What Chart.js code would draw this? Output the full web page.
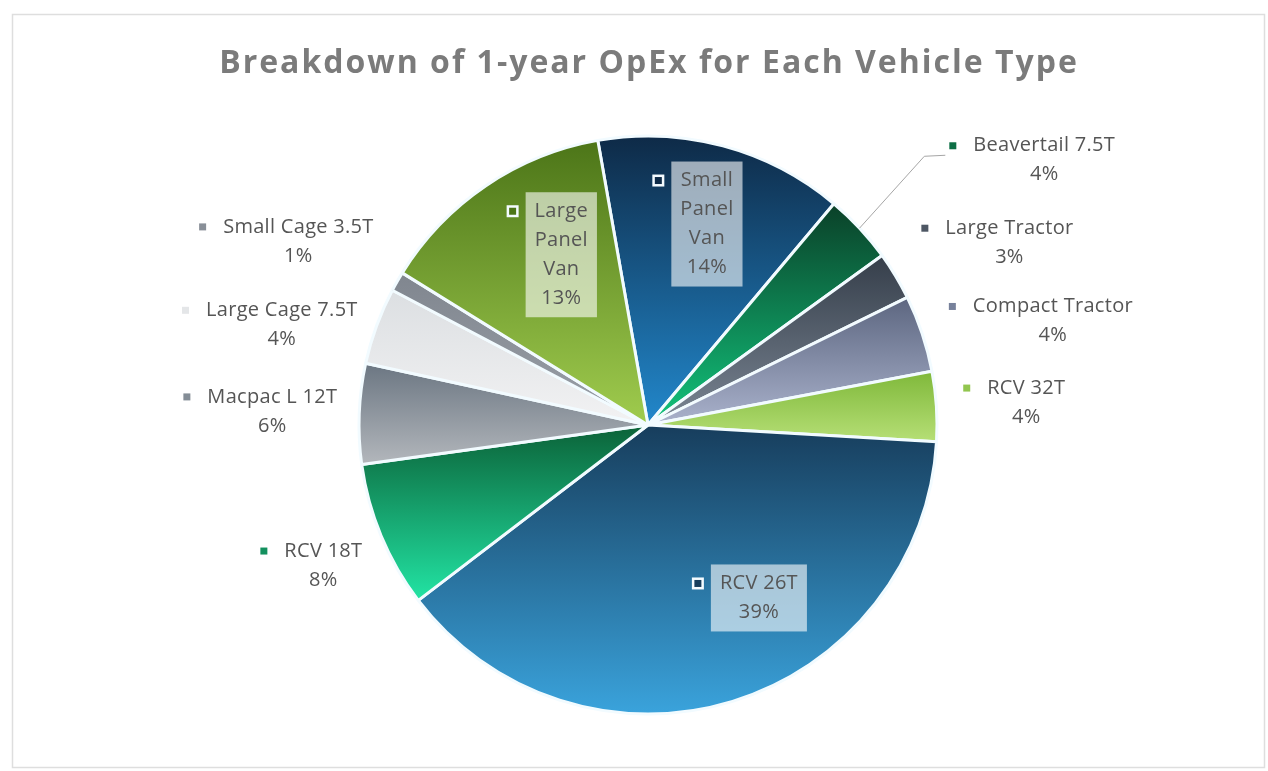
<!DOCTYPE html>
<html>
<head>
<meta charset="utf-8">
<title>1-year OpEx by vehicle type</title>
<script src="https://cdn.jsdelivr.net/npm/chart.js@4.4.1/dist/chart.umd.min.js"></script>
<style>
  html, body { margin: 0; padding: 0; background: #fff; }
  #wrap { width: 1268px; height: 771px; position: relative; }
</style>
</head>
<body>
<div id="wrap"><canvas id="opex"></canvas></div>
<script>
// share of 1-year OpEx per vehicle type (%), clockwise from the first slice
const vehicleTypes = ['Small Panel Van', 'Beavertail 7.5T', 'Large Tractor', 'Compact Tractor', 'RCV 32T',
  'RCV 26T', 'RCV 18T', 'Macpac L 12T', 'Large Cage 7.5T', 'Small Cage 3.5T', 'Large Panel Van'];
const opexShare = [13.9, 3.9, 2.7, 4.3, 3.9, 38.7, 8.2, 5.6, 4.3, 1.1, 13.4];

const chartTitle = 'Breakdown of 1-year OpEx for Each Vehicle Type';

// vertical gradient per slice: top -> bottom
const shadeTop = ['#0e2a47', '#0a4028', '#353e4a', '#5c6680', '#7fb83a', '#173d5c',
  '#0b6238', '#6b7682', '#dcdfe2', '#80868f', '#4c7518'];
const shadeBottom = ['#2288cc', '#12c47c', '#7b8694', '#aab2cc', '#b6df76', '#3aa3dc',
  '#22e4a4', '#b3b7bc', '#f2f2f3', '#9aa0a8', '#a0cc4e'];

// label tweaks (px) on top of the automatic placement
const labelNudge = [[5, 0], [90, -28], [11, -3], [3, 6], [-3, 0], [50, -26],
  [5, 7], [8, 0], [4, 19], [-9, -11], [30, 2]];

const ROTATION = -10;
const BORDER = 3;
const LINE = 29;
const KEY_W = 24;
const TEXT = '#555555';
const LABEL_FONT = '20px "Open Sans"';

function blend(a, b, t) {
  const pa = parseInt(a.slice(1), 16), pb = parseInt(b.slice(1), 16);
  const ch = s => Math.round(((pa >> s) & 255) * (1 - t) + ((pb >> s) & 255) * t);
  return `rgb(${ch(16)},${ch(8)},${ch(0)})`;
}

function sliceGradient(c) {
  const i = c.dataIndex;
  const chart = c.chart;
  const area = chart.chartArea;
  if (!area) return shadeBottom[i];
  const cx = (area.left + area.right) / 2, cy = (area.top + area.bottom) / 2;
  const r = (Math.min(area.width, area.height) - BORDER) / 2;
  const total = opexShare.reduce((a, b) => a + b, 0);
  let before = 0;
  for (let k = 0; k < i; k++) before += opexShare[k];
  const a0 = (ROTATION + before / total * 360) * Math.PI / 180;
  const a1 = a0 + opexShare[i] / total * 2 * Math.PI;
  const ys = [cy, cy - r * Math.cos(a0), cy - r * Math.cos(a1)];
  for (const t of [0, Math.PI, 2 * Math.PI]) {
    if (t > a0 && t < a1) ys.push(cy - r * Math.cos(t));
  }
  const g = chart.ctx.createLinearGradient(0, Math.min(...ys), 0, Math.max(...ys));
  g.addColorStop(0, shadeTop[i]);
  g.addColorStop(1, shadeBottom[i]);
  return g;
}

// white card with a thin grey frame, plus the title
const chartFrame = {
  id: 'chartFrame',
  beforeDraw(chart) {
    const { ctx, width, height } = chart;
    ctx.save();
    ctx.fillStyle = '#fff';
    ctx.fillRect(0, 0, width, height);
    ctx.strokeStyle = '#dedede';
    ctx.lineWidth = 1.5;
    ctx.strokeRect(12.5, 14.5, width - 16, height - 18);
    ctx.font = 'bold 32px "Open Sans"';
    ctx.letterSpacing = '2px';
    ctx.fillStyle = '#7b7b7b';
    ctx.textAlign = 'center';
    ctx.textBaseline = 'middle';
    ctx.fillText(chartTitle, chart.chartArea.left + chart.chartArea.width / 2 + 1, 64);
    ctx.restore();
  }
};

const sliceLabels = {
  id: 'sliceLabels',
  afterDatasetsDraw(chart) {
    const { ctx } = chart;
    const meta = chart.getDatasetMeta(0);
    const total = opexShare.reduce((a, b) => a + b, 0);
    ctx.save();
    ctx.font = LABEL_FONT;
    ctx.letterSpacing = '0.3px';
    ctx.textAlign = 'center';
    ctx.textBaseline = 'middle';
    meta.data.forEach((arc, i) => {
      const p = arc.getProps(['x', 'y', 'startAngle', 'endAngle', 'outerRadius'], true);
      const mid = (p.startAngle + p.endAngle) / 2;
      const dx = Math.cos(mid), dy = Math.sin(mid);
      const pct = Math.round(opexShare[i] / total * 100) + '%';
      const [nx, ny] = labelNudge[i];
      const name = vehicleTypes[i];

      if (opexShare[i] / total > 0.1) {
        // big slices: label inside on a translucent box
        const words = name.split(' ');
        const lines = (words.length > 2 ? words : [name]).concat(pct);
        const w = Math.max(...lines.map(l => ctx.measureText(l).width)) + 18;
        const h = lines.length * LINE + 9;
        const bx = p.x + dx * p.outerRadius * 0.72 + nx;
        const by = p.y + dy * p.outerRadius * 0.72 + ny;
        ctx.fillStyle = 'rgba(255,255,255,0.6)';
        ctx.fillRect(bx - w / 2, by - h / 2, w, h);
        ctx.fillStyle = TEXT;
        lines.forEach((l, k) => ctx.fillText(l, bx, by - h / 2 + 4.5 + LINE * (k + 0.5)));
        const kx = bx - w / 2 - 13, ky = by - h / 2 + 4.5 + LINE * 0.5;
        ctx.fillStyle = '#f4fbff';
        ctx.fillRect(kx - 6, ky - 6, 12, 12);
        ctx.fillStyle = shadeTop[i];
        ctx.fillRect(kx - 3.5, ky - 3.5, 7, 7);
        return;
      }

      // small slices: key + name, percentage below, outside the pie
      const nameW = ctx.measureText(name).width;
      const w = KEY_W + nameW, h = LINE + 28;
      const ar = p.outerRadius + 30;
      const cx = p.x + dx * ar + dx * w / 2 + nx;
      const cy = p.y + dy * ar + dy * h / 2 + ny;
      const left = cx - w / 2;
      const tx = left + KEY_W + nameW / 2;
      ctx.fillStyle = TEXT;
      ctx.fillText(name, tx, cy - LINE / 2);
      ctx.fillText(pct, tx, cy + LINE / 2);
      ctx.fillStyle = blend(shadeTop[i], shadeBottom[i], 0.35);
      ctx.fillRect(left, cy - LINE / 2 - 3.5, 7, 7);

      if (Math.hypot(nx, ny) > 40) {
        // label was pulled away from its slice: draw a leader line
        ctx.strokeStyle = '#a6a6a6';
        ctx.lineWidth = 1;
        ctx.beginPath();
        ctx.moveTo(p.x + dx * p.outerRadius, p.y + dy * p.outerRadius);
        ctx.lineTo(left - 25, cy - 4);
        ctx.lineTo(left - 4, cy - 5);
        ctx.stroke();
      }
    });
    ctx.restore();
  }
};

new Chart(document.getElementById('opex'), {
  type: 'pie',
  data: {
    labels: vehicleTypes,
    datasets: [{
      data: opexShare,
      backgroundColor: sliceGradient,
      borderColor: '#f2fbff',
      borderWidth: BORDER
    }]
  },
  options: {
    responsive: true,
    maintainAspectRatio: false,
    animation: false,
    events: [],
    rotation: ROTATION,
    layout: { padding: { left: 28, right: 0, top: 134.5, bottom: 55.5 } },
    plugins: {
      legend: { display: false },
      tooltip: { enabled: false },
      title: { display: false }
    }
  },
  plugins: [chartFrame, sliceLabels]
});
</script>
</body>
</html>
